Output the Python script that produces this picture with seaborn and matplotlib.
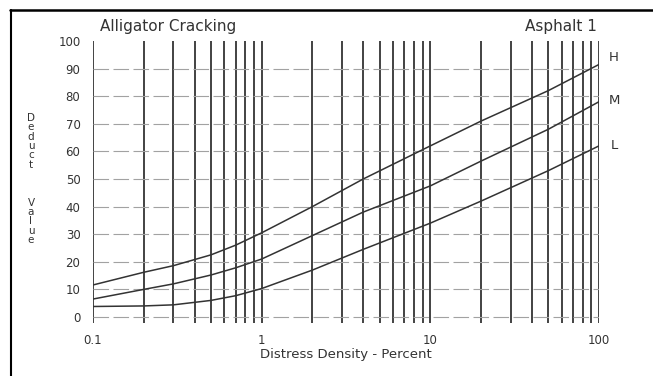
import numpy as np
import pandas as pd
import matplotlib
matplotlib.use("Agg")
import matplotlib.pyplot as plt
import matplotlib.ticker as mticker
from matplotlib.lines import Line2D
import seaborn as sns

# ============================================================
# DATA
# ============================================================

density = [0.1, 0.2, 0.3, 0.5, 0.7, 1, 2, 4, 10, 20, 50, 100]

deduct_h = [11.6, 16.2, 18.6, 22.5, 26, 30.5, 40, 50, 62, 71, 82, 91.5]
deduct_m = [6.5, 10, 12, 15.2, 17.8, 21, 29.5, 38, 47.5, 56.5, 68, 78]
deduct_l = [3.8, 4.0, 4.4, 6.0, 7.7, 10.3, 17, 24.5, 34, 42, 53, 62]

severity = ["H", "M", "L"]
y_ticks = list(range(0, 101, 10))
x_ticks = [0.1, 1, 10, 100]
x_tick_labels = ["0.1", "1", "10", "100"]

df = pd.DataFrame({
    "density": density * 3,
    "deduct": deduct_h + deduct_m + deduct_l,
    "severity": ["H"] * len(density) + ["M"] * len(density) + ["L"] * len(density),
})

# ============================================================
# STYLE
# ============================================================

sns.set_style("white")
plt.rcParams["font.family"] = ["DejaVu Sans"]

text_col = "#333333"
vline_col = "#222222"
hline_col = "#a2a2a2"
curve_col = "#333333"

# ============================================================
# FIGURE
# ============================================================

W, H = 653, 376
fig = plt.figure(figsize=(W / 100, H / 100), dpi=100)
ax = fig.add_axes([93 / W, 1 - 322.5 / H, 506 / W, 281.5 / H])

sns.lineplot(
    data=df,
    x="density",
    y="deduct",
    hue="severity",
    palette={s: curve_col for s in severity},
    linewidth=1.1,
    legend=False,
    ax=ax,
    zorder=5,
)

ax.set_xscale("log")
ax.set_xlim(0.1, 100)
ax.set_ylim(-2, 100)

for s in ax.spines.values():
    s.set_visible(False)

# log grid (vertical)
ax.xaxis.set_major_locator(mticker.FixedLocator(x_ticks))
ax.xaxis.set_major_formatter(mticker.FixedFormatter(x_tick_labels))
ax.xaxis.set_minor_locator(mticker.LogLocator(base=10, subs=np.arange(2, 10)))
ax.xaxis.set_minor_formatter(mticker.NullFormatter())
ax.grid(True, which="both", axis="x", color=vline_col, linewidth=1.2)

# horizontal dashed grid
ax.set_yticks(y_ticks)
ax.grid(True, which="major", axis="y", color=hline_col, linewidth=0.8,
        linestyle=(0, (14, 4)))
ax.get_ygridlines()[-1].set_visible(False)

ax.tick_params(axis="x", which="both", length=0, pad=8, labelsize=8.5,
               labelcolor=text_col)
ax.tick_params(axis="y", which="major", length=3, width=0.8, color=hline_col,
               pad=6, labelsize=8.5, labelcolor=text_col)

ax.set_xlabel("Distress Density - Percent", fontsize=9.5, color=text_col,
              labelpad=1)
ax.set_ylabel("")

# severity labels at right end
trans = matplotlib.transforms.blended_transform_factory(ax.transAxes, ax.transData)
for lab, yv in zip(severity, [94, 78.5, 62]):
    ax.text(1.03, yv, lab, transform=trans, fontsize=9.5, color=text_col,
            ha="center", va="center")

# stacked y label
fig.text(31 / W, 1 - 179 / H, "D\ne\nd\nu\nc\nt\n\n\n\nV\na\nl\nu\ne",
         fontsize=7.5, color=text_col, ha="center", va="center",
         linespacing=0.93)

# titles
fig.text(100 / W, 1 - 27 / H, "Alligator Cracking", fontsize=11,
         color=text_col, ha="left", va="center")
fig.text(597 / W, 1 - 27 / H, "Asphalt 1", fontsize=11,
         color=text_col, ha="right", va="center")

# scan frame (top and left edges)
fig.add_artist(Line2D([10 / W, 1.0], [1 - 10 / H, 1 - 10 / H],
                      transform=fig.transFigure, color="black", linewidth=1.8))
fig.add_artist(Line2D([11 / W, 11 / W], [0.0, 1 - 10 / H],
                      transform=fig.transFigure, color="black", linewidth=1.5))

fig.savefig("out.png", dpi=100)
